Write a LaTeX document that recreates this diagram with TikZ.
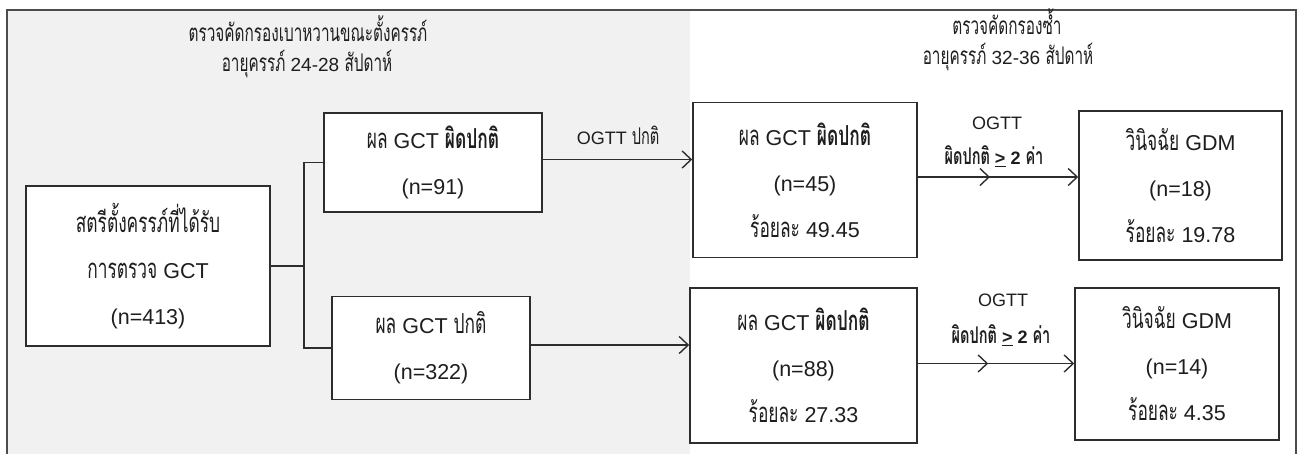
\documentclass[tikz,border=0pt]{standalone}
\usepackage{fontspec}
\setmainfont{Liberation Sans}
\newfontfamily\thai[Script=Thai, Scale=1.28, FakeStretch=0.63]{Loma}
\usetikzlibrary{arrows.meta,decorations.markings}
\definecolor{bggray}{RGB}{241,241,241}
\definecolor{linec}{RGB}{45,45,45}
\definecolor{textc}{RGB}{30,30,30}
\newcommand{\thtxt}[1]{{\thai #1}}
\newcommand{\thbf}[1]{{\thai\bfseries #1}}
\begin{document}
\begin{tikzpicture}[x=1pt,y=-1pt,
  box/.style={draw=linec, line width=1.6pt, fill=white, align=center, inner sep=0pt,
    text=textc, font=\fontsize{21.5}{46}\selectfont},
  titletext/.style={anchor=base, inner sep=0pt, text=textc, font=\fontsize{19}{24}\selectfont},
  lab/.style={inner sep=0pt, text=textc, font=\fontsize{18}{20}\selectfont},
  conn/.style={draw=linec, line width=1.4pt, -{Straight Barb[length=9pt,width=17pt]}},
  branch/.style={draw=linec, line width=1.4pt},
  trunk/.style={draw=linec, line width=2.4pt},
  midarrow/.style={postaction={decorate,decoration={markings,
    mark=at position 0.45 with {\arrow[line width=1.4pt]{Straight Barb[length=9pt,width=17pt]}}}}}
]
\useasboundingbox (0,0) rectangle (1301,453);
\clip (0,0) rectangle (1301,453);
\fill[bggray] (7,10) rectangle (690,460);
\draw[draw=black!70, line width=1.5pt] (7,10) rectangle (1296,470);

% titles
\node[titletext] (t1) at (308,41) {\thtxt{ตรวจคัดกรองเบาหวานขณะตั้งครรภ์}};
\node[titletext] (t2) at (307,71) {\thtxt{อายุครรภ์} 24-28 \thtxt{สัปดาห์}};
\node[titletext] (t3) at (1007,34) {\thtxt{ตรวจคัดกรองซ้ำ}};
\node[titletext] (t4) at (1008,64) {\thtxt{อายุครรภ์} 32-36 \thtxt{สัปดาห์}};

% boxes
\node[box, minimum width=244pt, minimum height=160pt] (L) at (148,266)
  {\thtxt{สตรีตั้งครรภ์ที่ได้รับ}\\ \thtxt{การตรวจ} GCT\\ (n=413)};
\node[box, minimum width=218pt, minimum height=99pt] (M1) at (433,162.5)
  {\thtxt{ผล} GCT \thbf{ผิดปกติ}\\ (n=91)};
\node[box, minimum width=198pt, minimum height=103pt] (M2) at (431,348)
  {\thtxt{ผล} GCT \thtxt{ปกติ}\\ (n=322)};
\node[box, minimum width=224pt, minimum height=155pt] (R1) at (805,180)
  {\thtxt{ผล} GCT \thbf{ผิดปกติ}\\ (n=45)\\ \thtxt{ร้อยละ} 49.45};
\node[box, minimum width=203pt, minimum height=149pt] (R2) at (1180.5,185.5)
  {\thtxt{วินิจฉัย} GDM\\ (n=18)\\ \thtxt{ร้อยละ} 19.78};
\node[box, minimum width=227pt, minimum height=155pt] (R3) at (803.5,365.5)
  {\thtxt{ผล} GCT \thbf{ผิดปกติ}\\ (n=88)\\ \thtxt{ร้อยละ} 27.33};
\node[box, minimum width=204pt, minimum height=152pt] (R4) at (1177,364)
  {\thtxt{วินิจฉัย} GDM\\ (n=14)\\ \thtxt{ร้อยละ} 4.35};

% connectors
\coordinate (J) at (304,266);
\draw[trunk] (L.east) -- (J);
\draw[branch] (M1.west) -| (J) |- (M2.west);
\draw[conn] ([yshift=3pt]M1.east) -- ([yshift=3pt]M1.east -| R1.west);
\draw[conn] ([yshift=3pt]M2.east) -- ([yshift=3pt]M2.east -| R3.west);
\draw[conn,midarrow] ([yshift=3pt]R1.east) -- ([yshift=3pt]R1.east -| R2.west);
\draw[conn,midarrow] ([yshift=2pt]R3.east) -- ([yshift=2pt]R3.east -| R4.west);

% labels
\node[lab] (o1) at (618,135) {OGTT \thtxt{ปกติ}};
\node[lab] (o2) at (997,123) {OGTT};
\node[lab] (o3) at (994,156) {\thbf{ผิดปกติ} \textbf{\underline{>} 2} \thbf{ค่า}};
\node[lab] (o4) at (1003,300) {OGTT};
\node[lab] (o5) at (1001,335) {\thbf{ผิดปกติ} \textbf{\underline{>} 2} \thbf{ค่า}};
\end{tikzpicture}
\end{document}
